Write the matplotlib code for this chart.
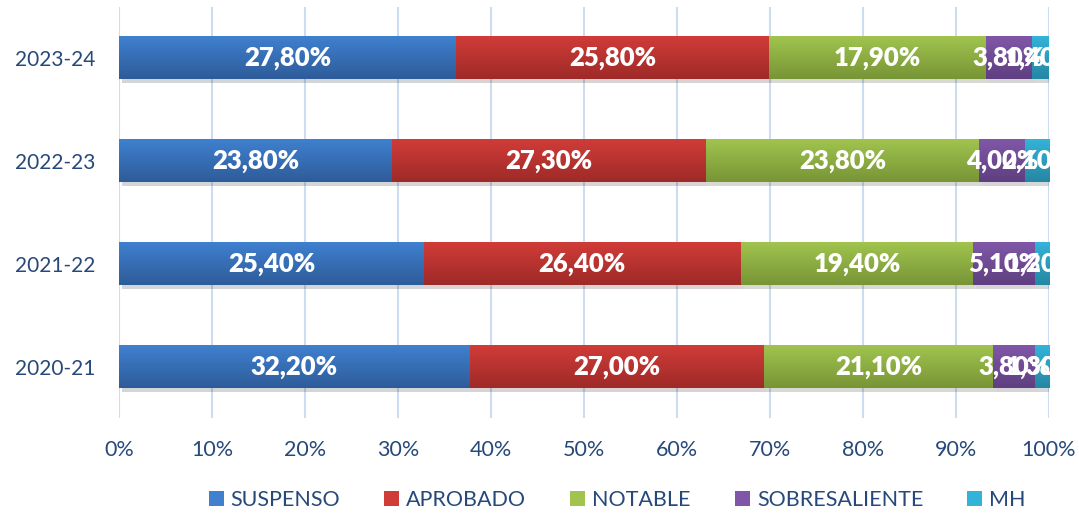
import numpy as np
import matplotlib
matplotlib.use("Agg")
import matplotlib.pyplot as plt
import matplotlib.patheffects as pe
from matplotlib.patches import Patch
from matplotlib.colors import LinearSegmentedColormap

plt.rcParams['font.family'] = ['Lato', 'DejaVu Sans']

years = ['2020-21', '2021-22', '2022-23', '2023-24']
categories = ['SUSPENSO', 'APROBADO', 'NOTABLE', 'SOBRESALIENTE', 'MH']
suspenso = [32.2, 25.4, 23.8, 27.8]
aprobado = [27.0, 26.4, 27.3, 25.8]
notable = [21.1, 19.4, 23.8, 17.9]
sobresaliente = [3.8, 5.1, 4.0, 3.8]
mh = [1.3, 1.2, 2.1, 1.4]
# light (top) / dark (bottom) shade of each series
tops = ['#3f80cf', '#d03c38', '#a0c44e', '#8057a8', '#34b3d8']
bottoms = ['#2e5c9a', '#9e2a28', '#789536', '#5f3f80', '#2587a3']

series = np.array([suspenso, aprobado, notable, sobresaliente, mh])
totals = series.sum(axis=0)
shares = series / totals * 100

fig = plt.figure(figsize=(10.79, 5.13), dpi=100)
ax = fig.add_axes([0.1103, 0.1852, 0.8619, 0.8012])

y = np.arange(len(years))
h = 0.41
grad = np.linspace(0, 1, 64).reshape(-1, 1)
left = np.zeros(len(years))
for i, cat in enumerate(categories):
    cmap = LinearSegmentedColormap.from_list(cat, [bottoms[i], tops[i]])
    ax.barh(y, shares[i], left=left, height=h, color=bottoms[i], zorder=3,
            path_effects=[pe.SimplePatchShadow(offset=(2, -3), alpha=0.18),
                          pe.Normal()])
    for j in range(len(years)):
        ax.imshow(grad, cmap=cmap, origin='lower', aspect='auto', zorder=3.5,
                  extent=(left[j], left[j] + shares[i][j], y[j] - h / 2, y[j] + h / 2))
        ax.text(left[j] + shares[i][j] / 2, y[j],
                f"{series[i][j]:.2f}%".replace('.', ','),
                ha='center', va='center', color='white',
                fontsize=18.5, fontweight='heavy', zorder=4)
    left += shares[i]

ax.set_xlim(0, 100)
ax.set_ylim(-0.495, 3.495)
ax.set_xticks(np.arange(0, 101, 10))
ax.set_xticklabels([f"{v}%" for v in range(0, 101, 10)])
ax.set_yticks(y)
ax.set_yticklabels(years)
ax.grid(axis='x', color='#cddcee', linewidth=1.5, zorder=0)
for s in ax.spines.values():
    s.set_visible(False)
ax.tick_params(axis='both', length=0, labelsize=15, labelcolor='#27497a')
ax.tick_params(axis='x', pad=16, labelsize=15.5)
ax.tick_params(axis='y', pad=17)

handles = [Patch(facecolor=tops[i], edgecolor='none') for i in range(len(categories))]
leg = fig.legend(handles, categories, loc='center', bbox_to_anchor=(0.572, 0.025),
                 ncol=5, frameon=False, fontsize=15.5, handlelength=0.7,
                 handleheight=0.7, handletextpad=0.32, columnspacing=2.05)
for t in leg.get_texts():
    t.set_color('#27497a')

fig.savefig('out.png', dpi=100)
